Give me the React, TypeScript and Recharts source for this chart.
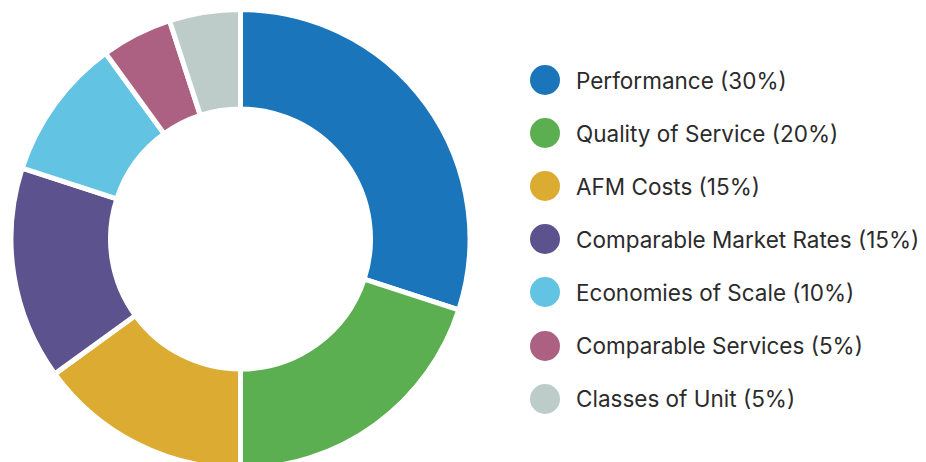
import React from "react";
import { PieChart, Pie, Cell } from "recharts";

const categories = [
  "Performance",
  "Quality of Service",
  "AFM Costs",
  "Comparable Market Rates",
  "Economies of Scale",
  "Comparable Services",
  "Classes of Unit",
];
const values = [30, 20, 15, 15, 10, 5, 5];
const colors = ["#1A75BB", "#5BAF50", "#DCAB32", "#5C528D", "#62C3E3", "#AD6182", "#BDCCC9"];

const data = categories.map((name, i) => ({ name, value: values[i] }));

const LegendBlock = () => (
  <div
    style={{
      position: "absolute",
      left: 522,
      top: 45.5,
      display: "flex",
      flexDirection: "column",
    }}
  >
    {data.map((d, i) => (
      <div
        key={d.name}
        style={{ display: "flex", alignItems: "center", height: 53.1 }}
      >
        <div
          style={{
            width: 30,
            height: 30,
            borderRadius: "50%",
            background: colors[i],
            marginRight: 16,
            flexShrink: 0,
          }}
        />
        <span
          style={{
            fontFamily: "Inter, sans-serif",
            fontSize: 22.5,
            color: "#2b2b2b",
            whiteSpace: "nowrap",
          }}
        >
          {d.name} ({d.value}%)
        </span>
      </div>
    ))}
  </div>
);

export default function App() {
  return (
    <div style={{ width: 918, height: 454, position: "relative" }}>
      <PieChart width={918} height={454} margin={{ top: 0, right: 0, bottom: 0, left: 0 }}>
        <Pie
          data={data}
          dataKey="value"
          nameKey="name"
          cx={232.5}
          cy={231}
          outerRadius={229.5}
          innerRadius={130}
          startAngle={90}
          endAngle={-270}
          stroke="#ffffff"
          strokeWidth={5}
          isAnimationActive={false}
        >
          {data.map((d, i) => (
            <Cell key={d.name} fill={colors[i]} />
          ))}
        </Pie>
      </PieChart>
      <LegendBlock />
    </div>
  );
}
